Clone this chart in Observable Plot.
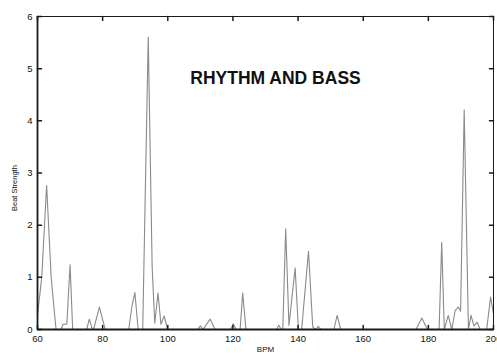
<!DOCTYPE html>
<html>
<head>
<meta charset="utf-8">
<script src="https://cdn.jsdelivr.net/npm/d3@7"></script>
<script src="https://cdn.jsdelivr.net/npm/@observablehq/plot@0.6"></script>
<style>
  html, body { margin: 0; padding: 0; background: #fff; }
  svg { display: block; }
</style>
</head>
<body>
<script>
const title = "RHYTHM AND BASS";
const xLabel = "BPM";
const yLabel = "Beat Strength";
const xTicks = [60, 80, 100, 120, 140, 160, 180, 200];
const yTicks = [0, 1, 2, 3, 4, 5, 6];

const bpm = [
  60, 61.3, 62.8, 64.2, 65, 65.7, 67.3, 67.8, 69, 70, 70.8,
  75.1, 75.9, 76.7, 77.3, 79, 80, 80.8,
  88, 89, 89.9, 90.9, 92.3, 94, 95.2, 96, 97, 97.9, 98.9, 99.9,
  109.2, 110, 110.8, 113, 114.5,
  119.3, 120.1, 121, 122.2, 123, 124,
  133.4, 134.1, 134.8, 135.3, 136.2, 137.2, 139.1, 140.1, 141.1, 143.2, 144.5, 145.4, 146.2, 147,
  151, 152, 153.1,
  176.2, 178, 179.7,
  183.3, 184.1, 184.9, 186.1, 187.2, 188.2, 189.2, 189.9, 191, 192.3, 193.1, 194, 195, 195.9,
  197.9, 199.1, 200
];
const strength = [
  0.27, 1.0, 2.76, 1.0, 0.45, 0, 0, 0.1, 0.1, 1.24, 0,
  0, 0.2, 0.03, 0.02, 0.43, 0.19, 0,
  0, 0.45, 0.71, 0, 0, 5.6, 1.2, 0.12, 0.7, 0.1, 0.26, 0,
  0, 0.07, 0, 0.2, 0,
  0, 0.11, 0, 0, 0.7, 0,
  0, 0.08, 0, 0, 1.93, 0.08, 1.18, 0, 0, 1.5, 0.05, 0, 0.06, 0,
  0, 0.27, 0,
  0, 0.22, 0,
  0, 1.67, 0, 0.27, 0, 0.36, 0.43, 0.35, 4.21, 0, 0.27, 0.07, 0.14, 0,
  0, 0.62, 0.3
];

const tickShape = { draw(ctx, l) { ctx.moveTo(0, 0); ctx.lineTo(0, -l); } };
const axisColor = "#1a1a1a";

const chart = Plot.plot({
  width: 497,
  height: 356,
  marginLeft: 37,
  marginRight: 4,
  marginTop: 16,
  marginBottom: 27,
  style: { fontFamily: "'Liberation Sans', Arial, sans-serif", fontSize: "9.5px", color: "#111", background: "#fff" },
  x: { domain: [60, 200], ticks: xTicks, tickSize: 0, tickPadding: 6, tickFormat: "d", label: null },
  y: { domain: [0, 6], ticks: yTicks, tickSize: 0, tickPadding: 5, tickFormat: "d", label: null },
  marks: [
    Plot.line(strength, { x: bpm, y: strength, stroke: "#8a8a8a", strokeWidth: 1.1 }),
    Plot.frame({ stroke: axisColor, strokeWidth: 1 }),
    Plot.ruleX([60], { stroke: axisColor, strokeWidth: 1.8 }),
    Plot.ruleY([0], { stroke: axisColor, strokeWidth: 1.8 }),
    Plot.vector(xTicks, { x: d => d, frameAnchor: "bottom", rotate: 0, length: 4, anchor: "start", shape: tickShape, stroke: axisColor }),
    Plot.vector(xTicks, { x: d => d, frameAnchor: "top", rotate: 180, length: 4, anchor: "start", shape: tickShape, stroke: axisColor }),
    Plot.vector(yTicks, { y: d => d, frameAnchor: "left", rotate: 90, length: 4, anchor: "start", shape: tickShape, stroke: axisColor }),
    Plot.vector(yTicks, { y: d => d, frameAnchor: "right", rotate: -90, length: 4, anchor: "start", shape: tickShape, stroke: axisColor }),
    Plot.text([title], { text: d => d, frameAnchor: "top", dx: 10, dy: 55, fontSize: 17.5, fontWeight: "bold", fill: "#111" }),
    Plot.text([yLabel], { text: d => d, frameAnchor: "left", rotate: -90, dx: -23, dy: 38, fontSize: 7.5, fill: "#111" }),
    Plot.text([xLabel], { text: d => d, frameAnchor: "bottom", dy: 22, fontSize: 8, fill: "#111" })
  ]
});
document.body.appendChild(chart);
</script>
</body>
</html>
